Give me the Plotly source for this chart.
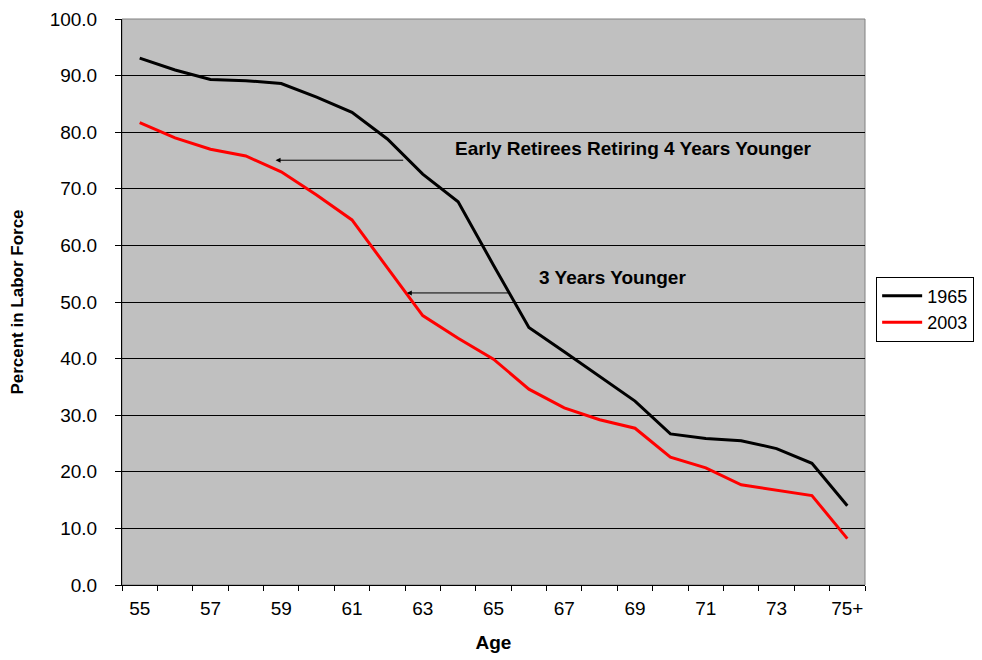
import plotly.graph_objects as go

# ~~~ data ~~~
ages = [str(a) for a in range(55, 75)] + ["75+"]
lf_1965 = [93.1, 91.0, 89.3, 89.1, 88.6, 86.2, 83.5, 78.8, 72.6, 67.7, 56.5,
           45.5, 41.2, 36.8, 32.5, 26.7, 25.9, 25.5, 24.1, 21.5, 14.0]
lf_2003 = [81.7, 79.0, 77.0, 75.8, 73.0, 68.9, 64.5, 56.1, 47.6, 43.6, 39.9,
           34.6, 31.3, 29.2, 27.7, 22.6, 20.7, 17.7, 16.8, 15.8, 8.2]
tick_labels = [a if i % 2 == 0 else "" for i, a in enumerate(ages)]

FONT = "Arial, Liberation Sans, sans-serif"

fig = go.Figure()
fig.add_trace(go.Scatter(x=ages, y=lf_1965, name="1965", mode="lines",
                         line={"color": "#000000", "width": 3}))
fig.add_trace(go.Scatter(x=ages, y=lf_2003, name="2003", mode="lines",
                         line={"color": "#FF0000", "width": 3}))

# annotation text + arrows (category index on x)
fig.add_annotation(x=13.93, y=77.15, text="<b>Early Retirees Retiring 4 Years Younger</b>",
                   showarrow=False, font=dict(family=FONT, size=19, color="#000"))
fig.add_annotation(x=13.37, y=54.25, text="<b>3 Years Younger</b>",
                   showarrow=False, font=dict(family=FONT, size=19, color="#000"))
fig.add_annotation(x=3.84, y=75.05, ax=7.49, ay=75.05, axref="x", ayref="y", text="",
                   showarrow=True, arrowhead=2, arrowsize=1, arrowwidth=1, arrowcolor="#000")
fig.add_annotation(x=7.55, y=51.6, ax=10.46, ay=51.6, axref="x", ayref="y", text="",
                   showarrow=True, arrowhead=2, arrowsize=1, arrowwidth=1, arrowcolor="#000")

# plot area frame (grey right edge)
fig.add_shape(type="rect", xref="paper", yref="paper", x0=0, x1=1, y0=0, y1=1,
              line=dict(color="#808080", width=1), layer="below")

fig.update_layout(
    width=982, height=660,
    margin=dict(l=114, r=125, t=11, b=83),
    paper_bgcolor="white", plot_bgcolor="#C0C0C0",
    font=dict(family=FONT, size=19, color="#000"),
    legend=dict(x=1.015, y=0.545, xanchor="left", yanchor="top",
                bgcolor="white", bordercolor="#000", borderwidth=1,
                font=dict(size=18), tracegroupgap=0, itemwidth=40),
    xaxis=dict(type="category", tickmode="array", tickvals=ages, ticktext=tick_labels,
               tickson="boundaries", ticks="outside", ticklen=5, tickcolor="#000",
               tickangle=0, automargin=False, ticklabelstandoff=6,
               showgrid=False, showline=True, linecolor="#000", linewidth=1,
               range=[-0.5, 20.5],
               title=dict(text="<b>Age</b>", font=dict(size=19), standoff=17)),
    yaxis=dict(range=[0, 100], dtick=10, tickformat=".1f", automargin=False,
               ticklabeloverflow="allow",
               ticks="outside", ticklen=6, tickcolor="#000", ticklabelstandoff=14,
               showgrid=True, gridcolor="#000", gridwidth=1,
               showline=True, linecolor="#000", linewidth=1, zeroline=False,
               title=dict(text="<b>Percent in Labor Force</b>", font=dict(size=17), standoff=29)),
)

fig.write_html("out.html")
